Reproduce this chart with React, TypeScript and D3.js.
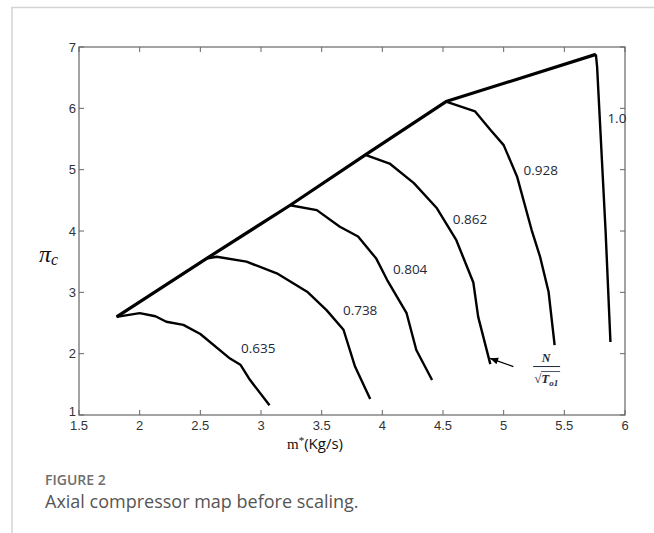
import React, { useEffect, useRef } from 'react'
import * as d3 from 'd3'

// axis ticks
const xTicks = [1.5, 2, 2.5, 3, 3.5, 4, 4.5, 5, 5.5, 6]
const yTicks = [1, 2, 3, 4, 5, 6, 7]

// surge line (left boundary of the map)
const surgeX = [1.81, 2.55, 3.24, 3.86, 4.525, 5.76]
const surgeY = [2.6, 3.55, 4.42, 5.24, 6.11, 6.88]

// constant corrected-speed lines, [m*, pi_c]
const speed0635 = [[1.81, 2.6], [2.0, 2.66], [2.13, 2.61], [2.22, 2.52], [2.36, 2.47], [2.5, 2.32], [2.745, 1.92], [2.83, 1.82], [2.91, 1.57], [3.07, 1.16]]
const speed0738 = [[2.55, 3.55], [2.635, 3.58], [2.88, 3.5], [3.13, 3.31], [3.38, 3.01], [3.54, 2.71], [3.68, 2.39], [3.775, 1.79], [3.9, 1.26]]
const speed0804 = [[3.24, 4.42], [3.46, 4.34], [3.65, 4.07], [3.8, 3.91], [3.95, 3.55], [4.04, 3.2], [4.2, 2.66], [4.28, 2.06], [4.41, 1.57]]
const speed0862 = [[3.86, 5.24], [4.06, 5.1], [4.26, 4.78], [4.45, 4.37], [4.61, 3.85], [4.75, 3.16], [4.79, 2.6], [4.89, 1.83]]
const speed0928 = [[4.525, 6.11], [4.765, 5.95], [4.89, 5.65], [5.0, 5.4], [5.11, 4.89], [5.23, 4.02], [5.3, 3.58], [5.37, 3.01], [5.42, 2.14]]
const speed10 = [[5.76, 6.88], [5.77, 6.68], [5.84, 4.0], [5.88, 2.19]]

const speedLines = [speed0635, speed0738, speed0804, speed0862, speed0928, speed10]

// speed labels and where they sit
const speedLabels = ['0.635', '0.738', '0.804', '0.862', '0.928', '1.0']
const labelX = [2.978, 3.817, 4.229, 4.723, 5.306, 5.933]
const labelY = [2.09, 2.71, 3.38, 4.19, 5.0, 5.85]

// arrow pointing at the 0.862 line end
const arrowFrom = [5.08, 1.79]
const arrowTo = [4.888, 1.925]

const App = () => {
    const ref = useRef<SVGSVGElement>(null)

    useEffect(() => {
        const svg = d3.select(ref.current)
        svg.selectAll('*').remove()

        const x = d3.scaleLinear().domain([1.5, 6]).range([79, 625])
        const y = d3.scaleLinear().domain([1, 7]).range([415, 47])

        // page frame
        svg.append('line').attr('x1', 11).attr('x2', 654).attr('y1', 7.5).attr('y2', 7.5)
            .attr('stroke', '#d4d4d4').attr('stroke-width', 1.5)
        svg.append('line').attr('x1', 12).attr('x2', 12).attr('y1', 7).attr('y2', 533)
            .attr('stroke', '#d4d4d4').attr('stroke-width', 1.5)

        const axisColor = '#666'
        const tickLen = 5
        const tickFont = '"Liberation Sans Narrow", "Liberation Sans", Arial, sans-serif'
        const g = svg.append('g')

        g.append('rect').attr('x', x(1.5)).attr('y', y(7))
            .attr('width', x(6) - x(1.5)).attr('height', y(1) - y(7))
            .attr('fill', 'none').attr('stroke', axisColor).attr('stroke-width', 1.2)

        // ticks on all four sides, pointing inward
        xTicks.forEach(t => {
            g.append('line').attr('x1', x(t)).attr('x2', x(t)).attr('y1', y(1)).attr('y2', y(1) - tickLen)
                .attr('stroke', axisColor)
            g.append('line').attr('x1', x(t)).attr('x2', x(t)).attr('y1', y(7)).attr('y2', y(7) + tickLen)
                .attr('stroke', axisColor)
            g.append('text').attr('x', x(t)).attr('y', y(1) + 15)
                .attr('text-anchor', 'middle')
                .attr('font-family', tickFont)
                .attr('font-size', 13).attr('fill', '#333')
                .text(String(t))
        })
        yTicks.forEach(t => {
            g.append('line').attr('x1', x(1.5)).attr('x2', x(1.5) + tickLen).attr('y1', y(t)).attr('y2', y(t))
                .attr('stroke', axisColor)
            g.append('line').attr('x1', x(6)).attr('x2', x(6) - tickLen).attr('y1', y(t)).attr('y2', y(t))
                .attr('stroke', axisColor)
            g.append('text').attr('x', x(1.5) - 3).attr('y', y(t) + (t === 1 ? 1 : 4.5))
                .attr('text-anchor', 'end')
                .attr('font-family', tickFont)
                .attr('font-size', 13).attr('fill', '#333')
                .text(String(t))
        })

        const line = d3.line<number[]>().x(d => x(d[0])).y(d => y(d[1]))

        // speed lines
        g.selectAll('path.speed')
            .data(speedLines)
            .join('path')
            .attr('class', 'speed')
            .attr('d', d => line(d))
            .attr('fill', 'none')
            .attr('stroke', '#000')
            .attr('stroke-width', 2.4)
            .attr('stroke-linejoin', 'round')

        // surge line
        g.append('path')
            .attr('d', line(surgeX.map((v, i) => [v, surgeY[i]])))
            .attr('fill', 'none')
            .attr('stroke', '#000')
            .attr('stroke-width', 3.2)
            .attr('stroke-linejoin', 'round')

        g.selectAll('text.lbl')
            .data(speedLabels)
            .join('text')
            .attr('class', 'lbl')
            .attr('x', (d, i) => x(labelX[i]))
            .attr('y', (d, i) => y(labelY[i]) + 5)
            .attr('text-anchor', 'middle')
            .attr('font-family', '"Open Sans", sans-serif')
            .attr('font-size', 13.5)
            .attr('fill', '#1c2a3c')
            .text(d => d)

        // arrow
        const ax1 = x(arrowFrom[0]), ay1 = y(arrowFrom[1]), ax2 = x(arrowTo[0]), ay2 = y(arrowTo[1])
        g.append('line').attr('x1', ax1).attr('y1', ay1).attr('x2', ax2).attr('y2', ay2)
            .attr('stroke', '#000').attr('stroke-width', 1.3)
        const ang = Math.atan2(ay2 - ay1, ax2 - ax1)
        const hl = 8, hw = 3.5
        const bx = ax2 - hl * Math.cos(ang), by = ay2 - hl * Math.sin(ang)
        g.append('path')
            .attr('d', `M${ax2},${ay2}L${bx - hw * Math.sin(ang)},${by + hw * Math.cos(ang)}L${bx + hw * Math.sin(ang)},${by - hw * Math.cos(ang)}Z`)
            .attr('fill', '#000')

        // N / sqrt(T_o1)
        const nx = x(5.35), ny = y(1.79)
        g.append('text').attr('x', nx).attr('y', ny - 5)
            .attr('text-anchor', 'middle')
            .attr('font-family', '"Liberation Serif", serif').attr('font-style', 'italic')
            .attr('font-weight', 'bold').attr('font-size', 12).attr('fill', '#1c2a3c')
            .text('N')
        g.append('line').attr('x1', nx - 13).attr('x2', nx + 14).attr('y1', ny).attr('y2', ny)
            .attr('stroke', '#1c2a3c').attr('stroke-width', 1)
        const sq = g.append('text').attr('x', nx - 12).attr('y', ny + 16)
            .attr('font-family', '"Liberation Serif", serif')
            .attr('font-size', 13).attr('fill', '#1c2a3c')
        sq.append('tspan').text('√')
        sq.append('tspan').attr('font-style', 'italic').attr('font-weight', 'bold').text('T')
        sq.append('tspan').attr('font-style', 'italic').attr('font-weight', 'bold')
            .attr('font-size', 9).attr('dy', 3).text('o1')
        g.append('line').attr('x1', nx - 5).attr('x2', nx + 14).attr('y1', ny + 5).attr('y2', ny + 5)
            .attr('stroke', '#1c2a3c').attr('stroke-width', 0.8)

        // axis titles
        const xl = g.append('text').attr('x', 315).attr('y', 449)
            .attr('text-anchor', 'middle').attr('font-size', 15).attr('fill', '#111')
        xl.append('tspan').attr('font-family', '"Liberation Serif", serif').text('m')
        xl.append('tspan').attr('font-family', '"Liberation Serif", serif').attr('font-size', 11).attr('dy', -5).text('*')
        xl.append('tspan').attr('font-family', '"Open Sans", sans-serif').attr('dy', 5).text('(Kg/s)')

        const yl = g.append('text').attr('x', 39).attr('y', 262)
            .attr('font-family', '"Liberation Serif", serif').attr('font-style', 'italic')
            .attr('font-size', 24).attr('fill', '#111')
        yl.append('tspan').text('π')
        yl.append('tspan').attr('font-size', 16).attr('dy', 3).text('c')

        // caption
        svg.append('text').attr('x', 45).attr('y', 485)
            .attr('font-family', '"Open Sans", sans-serif').attr('font-weight', 600)
            .attr('font-size', 14).attr('fill', '#6e6e6e')
            .text('FIGURE 2')
        svg.append('text').attr('x', 45).attr('y', 508)
            .attr('font-family', '"Open Sans", sans-serif')
            .attr('font-size', 18).attr('fill', '#555')
            .text('Axial compressor map before scaling.')
    }, [])

    return (
        <div style={{ position: 'absolute', left: 0, top: 0 }}>
            <svg ref={ref} width={654} height={533} style={{ display: 'block', background: '#fff' }} />
        </div>
    )
}

export default App
